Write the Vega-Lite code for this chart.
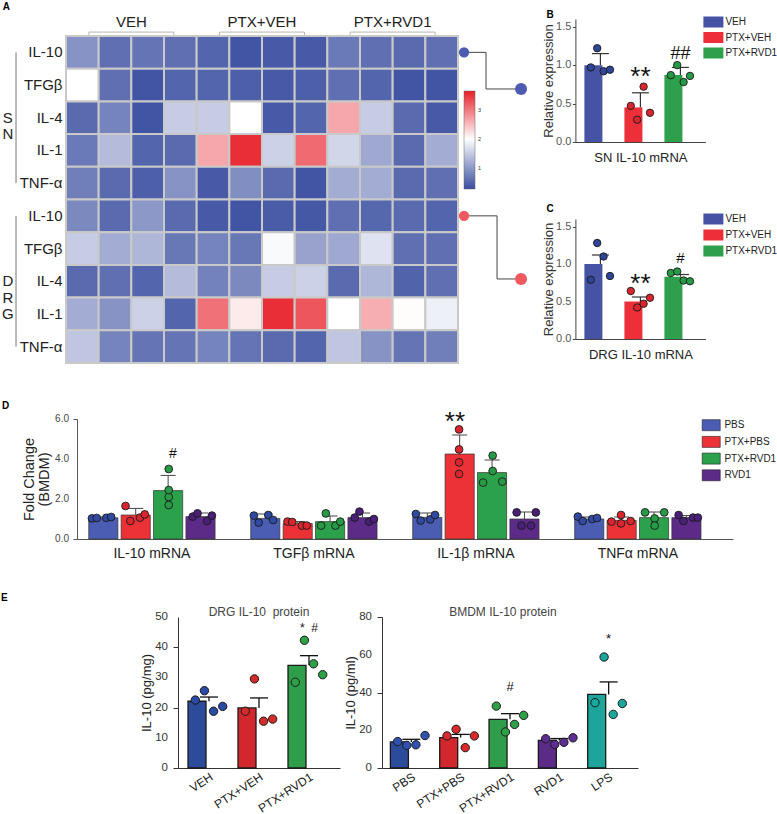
{
"$schema": "https://vega.github.io/schema/vega-lite/v6.json",
"background": "white",
"padding": {"left": 0, "top": 2, "right": 0, "bottom": 0},
"config": {"font": "Liberation Sans", "view": {"stroke": null}, "axis": {"grid": false, "titleFontWeight": "normal", "labelOverlap": false}, "legend": {"padding": 0}},
"spacing": 37,
"resolve": {"scale": {"color": "independent", "fill": "independent", "xOffset": "independent"}, "legend": {"color": "independent", "fill": "independent"}},
"vconcat": [
 {
  "spacing": 0,
  "resolve": {"scale": {"color": "independent", "fill": "independent", "xOffset": "independent"}, "legend": {"color": "independent", "fill": "independent"}},
  "hconcat": [
   {"width": 1, "height": 1, "data": {"values": []}, "mark": "point"},
   {
    "spacing": 13.4,
    "resolve": {"scale": {"color": "independent", "fill": "independent", "xOffset": "independent"}, "legend": {"color": "independent", "fill": "independent"}},
    "hconcat": [
     {
      "bounds": "flush", "spacing": 0,
      "resolve": {"scale": {"color": "independent", "fill": "independent"}, "legend": {"color": "independent", "fill": "independent"}},
      "vconcat": [
       {"width": 392, "height": 17, "data": {"values": []}, "mark": "point"},
       {"width": 392, "height": 327,
        "layer": [
         {"data": {"values": [
            {"row":"SN|IL-10","VEH 1":0.95,"VEH 2":0.6,"VEH 3":0.65,"VEH 4":0.6,"PTX+VEH 1":0.5,"PTX+VEH 2":0.35,"PTX+VEH 3":0.4,"PTX+VEH 4":0.4,"PTX+RVD1 1":0.7,"PTX+RVD1 2":0.6,"PTX+RVD1 3":0.55,"PTX+RVD1 4":0.6},
            {"row":"SN|TFGβ","VEH 1":2.0,"VEH 2":0.6,"VEH 3":0.35,"VEH 4":0.5,"PTX+VEH 1":0.5,"PTX+VEH 2":0.45,"PTX+VEH 3":0.4,"PTX+VEH 4":0.45,"PTX+RVD1 1":0.6,"PTX+RVD1 2":0.5,"PTX+RVD1 3":0.35,"PTX+RVD1 4":0.35},
            {"row":"SN|IL-4","VEH 1":0.55,"VEH 2":0.8,"VEH 3":0.35,"VEH 4":1.5,"PTX+VEH 1":1.5,"PTX+VEH 2":2.0,"PTX+VEH 3":0.4,"PTX+VEH 4":0.5,"PTX+RVD1 1":2.65,"PTX+RVD1 2":1.5,"PTX+RVD1 3":0.55,"PTX+RVD1 4":0.4},
            {"row":"SN|IL-1","VEH 1":0.7,"VEH 2":1.35,"VEH 3":0.5,"VEH 4":0.55,"PTX+VEH 1":2.65,"PTX+VEH 2":3.55,"PTX+VEH 3":1.55,"PTX+VEH 4":3.1,"PTX+RVD1 1":1.6,"PTX+RVD1 2":1.15,"PTX+RVD1 3":0.55,"PTX+RVD1 4":1.2},
            {"row":"SN|TNF-α","VEH 1":0.75,"VEH 2":0.55,"VEH 3":0.45,"VEH 4":0.95,"PTX+VEH 1":0.4,"PTX+VEH 2":0.9,"PTX+VEH 3":0.55,"PTX+VEH 4":0.35,"PTX+RVD1 1":1.2,"PTX+RVD1 2":1.2,"PTX+RVD1 3":0.55,"PTX+RVD1 4":0.6},
            {"row":"DRG|IL-10","VEH 1":0.85,"VEH 2":0.55,"VEH 3":1.0,"VEH 4":0.55,"PTX+VEH 1":0.4,"PTX+VEH 2":0.35,"PTX+VEH 3":0.42,"PTX+VEH 4":0.38,"PTX+RVD1 1":0.6,"PTX+RVD1 2":0.52,"PTX+RVD1 3":0.55,"PTX+RVD1 4":0.5},
            {"row":"DRG|TFGβ","VEH 1":1.5,"VEH 2":1.2,"VEH 3":1.3,"VEH 4":0.68,"PTX+VEH 1":0.8,"PTX+VEH 2":0.68,"PTX+VEH 3":1.95,"PTX+VEH 4":1.1,"PTX+RVD1 1":1.15,"PTX+RVD1 2":1.72,"PTX+RVD1 3":0.6,"PTX+RVD1 4":0.6},
            {"row":"DRG|IL-4","VEH 1":0.55,"VEH 2":0.6,"VEH 3":0.5,"VEH 4":1.35,"PTX+VEH 1":0.78,"PTX+VEH 2":0.85,"PTX+VEH 3":1.5,"PTX+VEH 4":1.55,"PTX+RVD1 1":0.55,"PTX+RVD1 2":1.3,"PTX+RVD1 3":0.48,"PTX+RVD1 4":0.6},
            {"row":"DRG|IL-1","VEH 1":1.2,"VEH 2":0.95,"VEH 3":1.55,"VEH 4":0.5,"PTX+VEH 1":3.05,"PTX+VEH 2":2.15,"PTX+VEH 3":3.55,"PTX+VEH 4":3.25,"PTX+RVD1 1":2.0,"PTX+RVD1 2":2.6,"PTX+RVD1 3":2.02,"PTX+RVD1 4":1.85},
            {"row":"DRG|TNF-α","VEH 1":1.45,"VEH 2":0.8,"VEH 3":0.65,"VEH 4":0.65,"PTX+VEH 1":0.8,"PTX+VEH 2":0.65,"PTX+VEH 3":0.55,"PTX+VEH 4":0.5,"PTX+RVD1 1":1.45,"PTX+RVD1 2":0.95,"PTX+RVD1 3":0.65,"PTX+RVD1 4":0.75}
          ]},
          "transform": [{"fold": ["VEH 1","VEH 2","VEH 3","VEH 4","PTX+VEH 1","PTX+VEH 2","PTX+VEH 3","PTX+VEH 4","PTX+RVD1 1","PTX+RVD1 2","PTX+RVD1 3","PTX+RVD1 4"], "as": ["col", "v"]}],
          "mark": {"type": "rect", "stroke": "#c9c9c9", "strokeWidth": 2},
          "encoding": {
            "x": {"field": "col", "type": "nominal", "scale": {"domain": ["VEH 1","VEH 2","VEH 3","VEH 4","PTX+VEH 1","PTX+VEH 2","PTX+VEH 3","PTX+VEH 4","PTX+RVD1 1","PTX+RVD1 2","PTX+RVD1 3","PTX+RVD1 4"], "paddingInner": 0, "paddingOuter": 0}, "axis": null},
            "y": {"field": "row", "type": "nominal", "scale": {"domain": ["SN|IL-10","SN|TFGβ","SN|IL-4","SN|IL-1","SN|TNF-α","DRG|IL-10","DRG|TFGβ","DRG|IL-4","DRG|IL-1","DRG|TNF-α"], "paddingInner": 0, "paddingOuter": 0},
                  "axis": {"title": null, "labelExpr": "split(datum.label, '|')[1]", "labelFontSize": 15, "labelColor": "#222", "ticks": false, "tickSize": 0, "domain": false, "labelPadding": 4, "labelOverlap": false}},
            "color": {"field": "v", "type": "quantitative",
                      "scale": {"domain": [0.28, 2, 3.65], "range": ["#3a4ea0", "#ffffff", "#e8202a"], "interpolate": "rgb"},
                      "legend": {"orient": "none", "legendX": 398, "legendY": 55, "title": null, "direction": "vertical", "gradientLength": 98, "gradientThickness": 11, "values": [1, 2, 3], "labelFontSize": 5.5, "labelColor": "#333", "labelOffset": 3, "gradientStrokeColor": "#666", "gradientStrokeWidth": 0.5}}
          }},
         {"data": {"values": [
            {"group": "VEH", "first": "VEH 1", "mid": "VEH 2", "last": "VEH 4", "row0": "SN|IL-10"},
            {"group": "PTX+VEH", "first": "PTX+VEH 1", "mid": "PTX+VEH 2", "last": "PTX+VEH 4", "row0": "SN|IL-10"},
            {"group": "PTX+RVD1", "first": "PTX+RVD1 1", "mid": "PTX+RVD1 2", "last": "PTX+RVD1 4", "row0": "SN|IL-10"}]},
          "layer": [
           {"mark": {"type": "text", "fontSize": 15, "color": "#222", "baseline": "middle"},
            "encoding": {"x": {"field": "mid", "type": "nominal", "bandPosition": 1, "axis": null}, "y": {"field": "row0", "type": "nominal", "bandPosition": -0.43}, "text": {"field": "group"}}},
           {"mark": {"type": "rule", "color": "#b5b5b5", "strokeWidth": 1},
            "encoding": {"x": {"field": "first", "type": "nominal", "bandPosition": 0.7, "axis": null}, "x2": {"field": "last", "bandPosition": 0.3}, "y": {"field": "row0", "type": "nominal", "bandPosition": -0.12}}},
           {"mark": {"type": "rule", "color": "#b5b5b5", "strokeWidth": 1},
            "encoding": {"x": {"field": "first", "type": "nominal", "bandPosition": 0.7, "axis": null}, "y": {"field": "row0", "type": "nominal", "bandPosition": -0.12}, "y2": {"field": "row0", "bandPosition": -0.03}}},
           {"mark": {"type": "rule", "color": "#b5b5b5", "strokeWidth": 1},
            "encoding": {"x": {"field": "last", "type": "nominal", "bandPosition": 0.3, "axis": null}, "y": {"field": "row0", "type": "nominal", "bandPosition": -0.12}, "y2": {"field": "row0", "bandPosition": -0.03}}}
          ]},
         {"data": {"values": [{"c": "VEH 1", "r": "SN|IL-10", "t": "A"}]},
          "mark": {"type": "text", "fontSize": 10, "fontWeight": "bold", "align": "left", "baseline": "alphabetic", "color": "#000"},
          "encoding": {"x": {"field": "c", "type": "nominal", "bandPosition": -1.938, "axis": null}, "y": {"field": "r", "type": "nominal", "bandPosition": -0.795}, "text": {"field": "t"}}},
         {"data": {"values": [
            {"tissue": "SN", "label": "S\nN", "c0": "VEH 1", "first": "SN|IL-10", "mid": "SN|IL-4", "last": "SN|TNF-α"},
            {"tissue": "DRG", "label": "D\nR\nG", "c0": "VEH 1", "first": "DRG|IL-10", "mid": "DRG|IL-4", "last": "DRG|TNF-α"}]},
          "layer": [
           {"mark": {"type": "rule", "color": "#777", "strokeWidth": 1},
            "encoding": {"x": {"field": "c0", "type": "nominal", "bandPosition": -1.53, "axis": null}, "y": {"field": "first", "type": "nominal", "bandPosition": 0.5}, "y2": {"field": "last", "bandPosition": 0.5}}},
           {"mark": {"type": "text", "fontSize": 15, "lineBreak": "\n", "lineHeight": 16.5, "color": "#222", "baseline": "middle", "align": "center"},
            "encoding": {"x": {"field": "c0", "type": "nominal", "bandPosition": -1.781, "axis": null}, "y": {"field": "mid", "type": "nominal", "bandPosition": 0.5}, "text": {"field": "label"}}}
          ]},
         {"data": {"values": [{"link": "SN", "c": "PTX+RVD1 4", "r1": "SN|IL-10", "r2": "SN|TFGβ"}]},
          "layer": [
           {"mark": {"type": "rule", "color": "#444", "strokeWidth": 1},
            "encoding": {"x": {"field": "c", "type": "nominal", "bandPosition": 1.185, "axis": null}, "x2": {"field": "c", "bandPosition": 1.858}, "y": {"field": "r1", "type": "nominal", "bandPosition": 0.5}}},
           {"mark": {"type": "rule", "color": "#444", "strokeWidth": 1},
            "encoding": {"x": {"field": "c", "type": "nominal", "bandPosition": 1.858, "axis": null}, "y": {"field": "r1", "type": "nominal", "bandPosition": 0.5}, "y2": {"field": "r2", "bandPosition": 0.62}}},
           {"mark": {"type": "rule", "color": "#444", "strokeWidth": 1},
            "encoding": {"x": {"field": "c", "type": "nominal", "bandPosition": 1.858, "axis": null}, "x2": {"field": "c", "bandPosition": 2.93}, "y": {"field": "r2", "type": "nominal", "bandPosition": 0.62}}},
           {"mark": {"type": "circle", "size": 107, "opacity": 1, "color": "#4f5bb0"},
            "encoding": {"x": {"field": "c", "type": "nominal", "bandPosition": 1.185, "axis": null}, "y": {"field": "r1", "type": "nominal", "bandPosition": 0.5}}},
           {"mark": {"type": "circle", "size": 145, "opacity": 1, "color": "#4f5bb0"},
            "encoding": {"x": {"field": "c", "type": "nominal", "bandPosition": 2.93, "axis": null}, "y": {"field": "r2", "type": "nominal", "bandPosition": 0.62}}}
          ]},
         {"data": {"values": [{"link": "DRG", "c": "PTX+RVD1 4", "r1": "DRG|IL-10", "r2": "DRG|IL-4"}]},
          "layer": [
           {"mark": {"type": "rule", "color": "#444", "strokeWidth": 1},
            "encoding": {"x": {"field": "c", "type": "nominal", "bandPosition": 1.185, "axis": null}, "x2": {"field": "c", "bandPosition": 2.195}, "y": {"field": "r1", "type": "nominal", "bandPosition": 0.5}}},
           {"mark": {"type": "rule", "color": "#444", "strokeWidth": 1},
            "encoding": {"x": {"field": "c", "type": "nominal", "bandPosition": 2.195, "axis": null}, "y": {"field": "r1", "type": "nominal", "bandPosition": 0.5}, "y2": {"field": "r2", "bandPosition": 0.43}}},
           {"mark": {"type": "rule", "color": "#444", "strokeWidth": 1},
            "encoding": {"x": {"field": "c", "type": "nominal", "bandPosition": 2.195, "axis": null}, "x2": {"field": "c", "bandPosition": 2.93}, "y": {"field": "r2", "type": "nominal", "bandPosition": 0.43}}},
           {"mark": {"type": "circle", "size": 107, "opacity": 1, "color": "#f0595f"},
            "encoding": {"x": {"field": "c", "type": "nominal", "bandPosition": 1.185, "axis": null}, "y": {"field": "r1", "type": "nominal", "bandPosition": 0.5}}},
           {"mark": {"type": "circle", "size": 145, "opacity": 1, "color": "#f0595f"},
            "encoding": {"x": {"field": "c", "type": "nominal", "bandPosition": 2.93, "axis": null}, "y": {"field": "r2", "type": "nominal", "bandPosition": 0.43}}}
          ]}
        ]}
      ]
     },
     {
      "bounds": "flush", "spacing": 77,
      "resolve": {"scale": {"color": "independent", "fill": "independent", "xOffset": "independent"}, "legend": {"color": "independent", "fill": "independent"}},
      "vconcat": [
       {"width": 130, "height": 123,
        "layer": [
         {"data": {"values": [{"grp":"VEH","mean":1.0},{"grp":"PTX+VEH","mean":0.45},{"grp":"PTX+RVD1","mean":0.87}]},
          "mark": {"type": "bar"},
          "encoding": {
            "x": {"field": "grp", "type": "nominal", "scale": {"domain": ["VEH","PTX+VEH","PTX+RVD1"], "paddingInner": 0.2, "paddingOuter": 0.225},
                  "axis": {"title": "SN IL-10 mRNA", "labels": false, "ticks": false, "tickSize": 0, "domainColor": "#444", "titleFontSize": 13, "titleColor": "#222", "titlePadding": 9.5}},
            "y": {"field": "mean", "type": "quantitative", "scale": {"domain": [0, 1.5]},
                  "axis": {"title": "Relative expression", "values": [0, 0.5, 1, 1.5], "labels": false, "tickSize": 3, "tickColor": "#444", "domainColor": "#444", "titleFontSize": 13, "titleColor": "#333", "titlePadding": 16.8}},
            "color": {"field": "grp", "type": "nominal", "scale": {"domain": ["VEH","PTX+VEH","PTX+RVD1"], "range": ["#4653a4", "#ec2f38", "#2e9f4b"]},
                      "legend": {"orient": "none", "legendX": 132.5, "legendY": -2.5, "title": null, "symbolType": "M-1.82,-1H1.82V1H-1.82Z", "symbolSize": 121, "symbolStrokeWidth": 0, "symbolOpacity": 1, "labelFontSize": 10, "labelColor": "#222", "labelOffset": 6.5, "rowPadding": 4.5}}}},
         {"data": {"values": [{"grp":"VEH","v":0,"lab":"0.0"},{"grp":"VEH","v":0.5,"lab":"0.5"},{"grp":"VEH","v":1,"lab":"1.0"},{"grp":"VEH","v":1.5,"lab":"1.5"}]},
          "mark": {"type": "text", "align": "right", "baseline": "middle", "fontSize": 11, "color": "#555"},
          "encoding": {"x": {"field": "grp", "type": "nominal", "bandPosition": -0.406}, "y": {"field": "v", "type": "quantitative"}, "text": {"field": "lab"}}},
         {"data": {"values": [{"grp":"VEH","mean":1.0,"upper":1.15},{"grp":"PTX+VEH","mean":0.45,"upper":0.64},{"grp":"PTX+RVD1","mean":0.87,"upper":0.97}]},
          "mark": {"type": "rule", "color": "#333", "strokeWidth": 1.2},
          "encoding": {"x": {"field": "grp", "type": "nominal"}, "y": {"field": "mean", "type": "quantitative"}, "y2": {"field": "upper"}}},
         {"data": {"values": [{"grp":"VEH","upper":1.15},{"grp":"PTX+VEH","upper":0.64},{"grp":"PTX+RVD1","upper":0.97}]},
          "mark": {"type": "tick", "orient": "horizontal", "color": "#333", "thickness": 1.2, "size": 17, "opacity": 1},
          "encoding": {"x": {"field": "grp", "type": "nominal"}, "y": {"field": "upper", "type": "quantitative"}}},
         {"data": {"values": [
            {"grp":"VEH","rep":1,"val":0.97},{"grp":"VEH","rep":2,"val":1.22},{"grp":"VEH","rep":3,"val":0.92},{"grp":"VEH","rep":4,"val":0.94},
            {"grp":"PTX+VEH","rep":1,"val":0.47},{"grp":"PTX+VEH","rep":2,"val":0.29},{"grp":"PTX+VEH","rep":3,"val":0.72},{"grp":"PTX+VEH","rep":4,"val":0.38},
            {"grp":"PTX+RVD1","rep":1,"val":0.87},{"grp":"PTX+RVD1","rep":2,"val":1.0},{"grp":"PTX+RVD1","rep":3,"val":0.78},{"grp":"PTX+RVD1","rep":4,"val":0.86}]},
          "mark": {"type": "circle", "size": 55, "opacity": 1, "stroke": "#1a1a1a", "strokeWidth": 0.9},
          "encoding": {
            "x": {"field": "grp", "type": "nominal"},
            "xOffset": {"field": "rep", "type": "ordinal", "scale": {"type": "point", "padding": 1.2}},
            "y": {"field": "val", "type": "quantitative"},
            "fill": {"field": "grp", "type": "nominal", "scale": {"domain": ["VEH","PTX+VEH","PTX+RVD1"], "range": ["#2f4597", "#d9262e", "#279a45"]}, "legend": null}}},
         {"data": {"values": [{"grp":"PTX+VEH","sig":"**","pos":0.74}]},
          "mark": {"type": "text", "fontSize": 26, "baseline": "alphabetic", "color": "#111"},
          "encoding": {"x": {"field": "grp", "type": "nominal"}, "y": {"field": "pos", "type": "quantitative"}, "text": {"field": "sig"}}},
         {"data": {"values": [{"grp":"PTX+RVD1","sig":"##","pos":1.085}]},
          "mark": {"type": "text", "fontSize": 18, "baseline": "alphabetic", "color": "#111"},
          "encoding": {"x": {"field": "grp", "type": "nominal"}, "y": {"field": "pos", "type": "quantitative"}, "text": {"field": "sig"}}},
         {"data": {"values": [{"grp":"VEH","t":"B","pos":1.61}]},
          "mark": {"type": "text", "fontSize": 10, "fontWeight": "bold", "align": "left", "baseline": "alphabetic", "color": "#000"},
          "encoding": {"x": {"field": "grp", "type": "nominal", "bandPosition": -1.1875}, "y": {"field": "pos", "type": "quantitative"}, "text": {"field": "t"}}}
        ]},
       {"width": 130, "height": 120,
        "layer": [
         {"data": {"values": [{"grp":"VEH","mean":1.0},{"grp":"PTX+VEH","mean":0.5},{"grp":"PTX+RVD1","mean":0.83}]},
          "mark": {"type": "bar"},
          "encoding": {
            "x": {"field": "grp", "type": "nominal", "scale": {"domain": ["VEH","PTX+VEH","PTX+RVD1"], "paddingInner": 0.2, "paddingOuter": 0.225},
                  "axis": {"title": "DRG IL-10 mRNA", "labels": false, "ticks": false, "tickSize": 0, "domainColor": "#444", "titleFontSize": 13, "titleColor": "#222", "titlePadding": 9.5}},
            "y": {"field": "mean", "type": "quantitative", "scale": {"domain": [0, 1.5]},
                  "axis": {"title": "Relative expression", "values": [0, 0.5, 1, 1.5], "labels": false, "tickSize": 3, "tickColor": "#444", "domainColor": "#444", "titleFontSize": 13, "titleColor": "#333", "titlePadding": 16.8}},
            "color": {"field": "grp", "type": "nominal", "scale": {"domain": ["VEH","PTX+VEH","PTX+RVD1"], "range": ["#4653a4", "#ec2f38", "#2e9f4b"]},
                      "legend": {"orient": "none", "legendX": 132.5, "legendY": -5.5, "title": null, "symbolType": "M-1.82,-1H1.82V1H-1.82Z", "symbolSize": 121, "symbolStrokeWidth": 0, "symbolOpacity": 1, "labelFontSize": 10, "labelColor": "#222", "labelOffset": 6.5, "rowPadding": 5}}}},
         {"data": {"values": [{"grp":"VEH","v":0,"lab":"0.0"},{"grp":"VEH","v":0.5,"lab":"0.5"},{"grp":"VEH","v":1,"lab":"1.0"},{"grp":"VEH","v":1.5,"lab":"1.5"}]},
          "mark": {"type": "text", "align": "right", "baseline": "middle", "fontSize": 11, "color": "#555"},
          "encoding": {"x": {"field": "grp", "type": "nominal", "bandPosition": -0.406}, "y": {"field": "v", "type": "quantitative"}, "text": {"field": "lab"}}},
         {"data": {"values": [{"grp":"VEH","mean":1.0,"upper":1.12},{"grp":"PTX+VEH","mean":0.5,"upper":0.56},{"grp":"PTX+RVD1","mean":0.83,"upper":0.86}]},
          "mark": {"type": "rule", "color": "#333", "strokeWidth": 1.2},
          "encoding": {"x": {"field": "grp", "type": "nominal"}, "y": {"field": "mean", "type": "quantitative"}, "y2": {"field": "upper"}}},
         {"data": {"values": [{"grp":"VEH","upper":1.12},{"grp":"PTX+VEH","upper":0.56},{"grp":"PTX+RVD1","upper":0.86}]},
          "mark": {"type": "tick", "orient": "horizontal", "color": "#333", "thickness": 1.2, "size": 17, "opacity": 1},
          "encoding": {"x": {"field": "grp", "type": "nominal"}, "y": {"field": "upper", "type": "quantitative"}}},
         {"data": {"values": [
            {"grp":"VEH","rep":1,"val":0.79},{"grp":"VEH","rep":2,"val":1.28},{"grp":"VEH","rep":3,"val":1.1},{"grp":"VEH","rep":4,"val":0.84},
            {"grp":"PTX+VEH","rep":1,"val":0.64},{"grp":"PTX+VEH","rep":2,"val":0.42},{"grp":"PTX+VEH","rep":3,"val":0.47},{"grp":"PTX+VEH","rep":4,"val":0.55},
            {"grp":"PTX+RVD1","rep":1,"val":0.88},{"grp":"PTX+RVD1","rep":2,"val":0.9},{"grp":"PTX+RVD1","rep":3,"val":0.78},{"grp":"PTX+RVD1","rep":4,"val":0.77}]},
          "mark": {"type": "circle", "size": 55, "opacity": 1, "stroke": "#1a1a1a", "strokeWidth": 0.9},
          "encoding": {
            "x": {"field": "grp", "type": "nominal"},
            "xOffset": {"field": "rep", "type": "ordinal", "scale": {"type": "point", "padding": 1.2}},
            "y": {"field": "val", "type": "quantitative"},
            "fill": {"field": "grp", "type": "nominal", "scale": {"domain": ["VEH","PTX+VEH","PTX+RVD1"], "range": ["#2f4597", "#d9262e", "#279a45"]}, "legend": null}}},
         {"data": {"values": [{"grp":"PTX+VEH","sig":"**","pos":0.63}]},
          "mark": {"type": "text", "fontSize": 26, "baseline": "alphabetic", "color": "#111"},
          "encoding": {"x": {"field": "grp", "type": "nominal"}, "y": {"field": "pos", "type": "quantitative"}, "text": {"field": "sig"}}},
         {"data": {"values": [{"grp":"PTX+RVD1","sig":"#","pos":1.01}]},
          "mark": {"type": "text", "fontSize": 15, "baseline": "alphabetic", "color": "#111"},
          "encoding": {"x": {"field": "grp", "type": "nominal"}, "y": {"field": "pos", "type": "quantitative"}, "text": {"field": "sig"}}},
         {"data": {"values": [{"grp":"VEH","t":"C","pos":1.6875}]},
          "mark": {"type": "text", "fontSize": 10, "fontWeight": "bold", "align": "left", "baseline": "alphabetic", "color": "#000"},
          "encoding": {"x": {"field": "grp", "type": "nominal", "bandPosition": -1.1875}, "y": {"field": "pos", "type": "quantitative"}, "text": {"field": "t"}}}
        ]}
      ]
     }
    ]
   }
  ]
 },
 {
  "spacing": 32,
  "resolve": {"scale": {"color": "independent", "fill": "independent", "xOffset": "independent"}, "legend": {"color": "independent", "fill": "independent"}},
  "vconcat": [
   {
    "spacing": 0,
    "resolve": {"scale": {"color": "independent", "fill": "independent", "xOffset": "independent"}, "legend": {"color": "independent", "fill": "independent"}},
    "hconcat": [
     {"width": 1, "height": 1, "data": {"values": []}, "mark": "point"},
     {"width": 656, "height": 120,
      "resolve": {"scale": {"xOffset": "independent", "fill": "independent"}},
      "layer": [
       {"data": {"values": [
          {"gene":"IL-10 mRNA","trt":"PBS","mean":1.06},{"gene":"IL-10 mRNA","trt":"PTX+PBS","mean":1.2},{"gene":"IL-10 mRNA","trt":"PTX+RVD1","mean":2.42},{"gene":"IL-10 mRNA","trt":"RVD1","mean":1.12},
          {"gene":"TGFβ mRNA","trt":"PBS","mean":1.03},{"gene":"TGFβ mRNA","trt":"PTX+PBS","mean":0.77},{"gene":"TGFβ mRNA","trt":"PTX+RVD1","mean":0.87},{"gene":"TGFβ mRNA","trt":"RVD1","mean":1.07},
          {"gene":"IL-1β mRNA","trt":"PBS","mean":1.08},{"gene":"IL-1β mRNA","trt":"PTX+PBS","mean":4.25},{"gene":"IL-1β mRNA","trt":"PTX+RVD1","mean":3.32},{"gene":"IL-1β mRNA","trt":"RVD1","mean":1.0},
          {"gene":"TNFα mRNA","trt":"PBS","mean":1.0},{"gene":"TNFα mRNA","trt":"PTX+PBS","mean":0.93},{"gene":"TNFα mRNA","trt":"PTX+RVD1","mean":1.07},{"gene":"TNFα mRNA","trt":"RVD1","mean":1.07}]},
        "mark": {"type": "bar", "stroke": "#333", "strokeWidth": 0.7},
        "encoding": {
          "x": {"field": "gene", "type": "nominal", "scale": {"domain": ["IL-10 mRNA","TGFβ mRNA","IL-1β mRNA","TNFα mRNA"], "paddingInner": 0.2, "paddingOuter": 0.125, "align": 0.25},
                "axis": {"title": null, "labelFontSize": 14, "labelColor": "#222", "ticks": false, "tickSize": 0, "labelPadding": 7, "domainColor": "#555", "labelAngle": 0}},
          "xOffset": {"field": "trt", "type": "nominal", "scale": {"domain": ["PBS","PTX+PBS","PTX+RVD1","RVD1"], "paddingInner": 0.1, "paddingOuter": 0.05}},
          "y": {"field": "mean", "type": "quantitative", "scale": {"domain": [0, 6]},
                "axis": {"title": ["Fold Change", "(BMDM)"], "values": [0, 2, 4, 6], "labels": false, "tickSize": 4, "tickColor": "#555", "domainColor": "#555", "titleFontSize": 14.5, "titleColor": "#222", "titlePadding": 20.9, "titleLineHeight": 15}},
          "color": {"field": "trt", "type": "nominal", "scale": {"domain": ["PBS","PTX+PBS","PTX+RVD1","RVD1"], "range": ["#4b5db2", "#ec3237", "#2ba14b", "#5b2b87"]},
                    "legend": {"orient": "none", "legendX": 628.2, "legendY": 0.2, "title": null, "symbolType": "M-1.64,-1H1.64V1H-1.64Z", "symbolSize": 121, "symbolStrokeColor": "#222", "symbolStrokeWidth": 0.6, "symbolOpacity": 1, "labelFontSize": 10, "labelColor": "#222", "labelOffset": 7.2, "rowPadding": 2.7}}}},
       {"data": {"values": [{"gene":"IL-10 mRNA","v":0,"lab":"0.0"},{"gene":"IL-10 mRNA","v":2,"lab":"2.0"},{"gene":"IL-10 mRNA","v":4,"lab":"4.0"},{"gene":"IL-10 mRNA","v":6,"lab":"6.0"}]},
        "mark": {"type": "text", "align": "right", "baseline": "middle", "fontSize": 10, "color": "#444"},
        "encoding": {"x": {"field": "gene", "type": "nominal", "bandPosition": -0.1397}, "y": {"field": "v", "type": "quantitative"}, "text": {"field": "lab"}}},
       {"data": {"values": [
          {"gene":"IL-10 mRNA","trt":"PBS","mean":1.06,"upper":1.1},{"gene":"IL-10 mRNA","trt":"PTX+PBS","mean":1.2,"upper":1.53},{"gene":"IL-10 mRNA","trt":"PTX+RVD1","mean":2.42,"upper":3.18},{"gene":"IL-10 mRNA","trt":"RVD1","mean":1.12,"upper":1.3},
          {"gene":"TGFβ mRNA","trt":"PBS","mean":1.03,"upper":1.25},{"gene":"TGFβ mRNA","trt":"PTX+PBS","mean":0.77,"upper":0.87},{"gene":"TGFβ mRNA","trt":"PTX+RVD1","mean":0.87,"upper":1.15},{"gene":"TGFβ mRNA","trt":"RVD1","mean":1.07,"upper":1.3},
          {"gene":"IL-1β mRNA","trt":"PBS","mean":1.08,"upper":1.3},{"gene":"IL-1β mRNA","trt":"PTX+PBS","mean":4.25,"upper":5.2},{"gene":"IL-1β mRNA","trt":"PTX+RVD1","mean":3.32,"upper":3.95},{"gene":"IL-1β mRNA","trt":"RVD1","mean":1.0,"upper":1.35},
          {"gene":"TNFα mRNA","trt":"PBS","mean":1.0,"upper":1.1},{"gene":"TNFα mRNA","trt":"PTX+PBS","mean":0.93,"upper":1.1},{"gene":"TNFα mRNA","trt":"PTX+RVD1","mean":1.07,"upper":1.35},{"gene":"TNFα mRNA","trt":"RVD1","mean":1.07,"upper":1.17}]},
        "mark": {"type": "rule", "color": "#444", "strokeWidth": 1},
        "encoding": {
          "x": {"field": "gene", "type": "nominal"},
          "xOffset": {"field": "trt", "type": "nominal", "scale": {"domain": ["PBS","PTX+PBS","PTX+RVD1","RVD1"], "paddingInner": 0.1, "paddingOuter": 0.05}},
          "y": {"field": "mean", "type": "quantitative"}, "y2": {"field": "upper"}}},
       {"data": {"values": [
          {"gene":"IL-10 mRNA","trt":"PBS","upper":1.1},{"gene":"IL-10 mRNA","trt":"PTX+PBS","upper":1.53},{"gene":"IL-10 mRNA","trt":"PTX+RVD1","upper":3.18},{"gene":"IL-10 mRNA","trt":"RVD1","upper":1.3},
          {"gene":"TGFβ mRNA","trt":"PBS","upper":1.25},{"gene":"TGFβ mRNA","trt":"PTX+PBS","upper":0.87},{"gene":"TGFβ mRNA","trt":"PTX+RVD1","upper":1.15},{"gene":"TGFβ mRNA","trt":"RVD1","upper":1.3},
          {"gene":"IL-1β mRNA","trt":"PBS","upper":1.3},{"gene":"IL-1β mRNA","trt":"PTX+PBS","upper":5.2},{"gene":"IL-1β mRNA","trt":"PTX+RVD1","upper":3.95},{"gene":"IL-1β mRNA","trt":"RVD1","upper":1.35},
          {"gene":"TNFα mRNA","trt":"PBS","upper":1.1},{"gene":"TNFα mRNA","trt":"PTX+PBS","upper":1.1},{"gene":"TNFα mRNA","trt":"PTX+RVD1","upper":1.35},{"gene":"TNFα mRNA","trt":"RVD1","upper":1.17}]},
        "mark": {"type": "tick", "orient": "horizontal", "color": "#444", "thickness": 1, "size": 15, "opacity": 1},
        "encoding": {
          "x": {"field": "gene", "type": "nominal"},
          "xOffset": {"field": "trt", "type": "nominal", "scale": {"domain": ["PBS","PTX+PBS","PTX+RVD1","RVD1"], "paddingInner": 0.1, "paddingOuter": 0.05}},
          "y": {"field": "upper", "type": "quantitative"}}},
       {"data": {"values": [
          {"gene":"IL-10 mRNA","trt":"PBS","slot":"PBS|1","val":1.03},{"gene":"IL-10 mRNA","trt":"PBS","slot":"PBS|2","val":1.05},{"gene":"IL-10 mRNA","trt":"PBS","slot":"PBS|3","val":1.06},{"gene":"IL-10 mRNA","trt":"PBS","slot":"PBS|4","val":1.1},
          {"gene":"IL-10 mRNA","trt":"PTX+PBS","slot":"PTX+PBS|1","val":1.65},{"gene":"IL-10 mRNA","trt":"PTX+PBS","slot":"PTX+PBS|2","val":0.9},{"gene":"IL-10 mRNA","trt":"PTX+PBS","slot":"PTX+PBS|3","val":1.07},{"gene":"IL-10 mRNA","trt":"PTX+PBS","slot":"PTX+PBS|4","val":1.23},
          {"gene":"IL-10 mRNA","trt":"PTX+RVD1","slot":"PTX+RVD1|m","val":2.1},{"gene":"IL-10 mRNA","trt":"PTX+RVD1","slot":"PTX+RVD1|m","val":3.5},{"gene":"IL-10 mRNA","trt":"PTX+RVD1","slot":"PTX+RVD1|m","val":2.45},{"gene":"IL-10 mRNA","trt":"PTX+RVD1","slot":"PTX+RVD1|m","val":1.7},
          {"gene":"IL-10 mRNA","trt":"RVD1","slot":"RVD1|1","val":1.12},{"gene":"IL-10 mRNA","trt":"RVD1","slot":"RVD1|2","val":1.28},{"gene":"IL-10 mRNA","trt":"RVD1","slot":"RVD1|3","val":0.9},{"gene":"IL-10 mRNA","trt":"RVD1","slot":"RVD1|4","val":1.17},
          {"gene":"TGFβ mRNA","trt":"PBS","slot":"PBS|1","val":1.17},{"gene":"TGFβ mRNA","trt":"PBS","slot":"PBS|2","val":0.82},{"gene":"TGFβ mRNA","trt":"PBS","slot":"PBS|3","val":1.2},{"gene":"TGFβ mRNA","trt":"PBS","slot":"PBS|4","val":0.95},
          {"gene":"TGFβ mRNA","trt":"PTX+PBS","slot":"PTX+PBS|1","val":0.87},{"gene":"TGFβ mRNA","trt":"PTX+PBS","slot":"PTX+PBS|2","val":0.85},{"gene":"TGFβ mRNA","trt":"PTX+PBS","slot":"PTX+PBS|3","val":0.67},{"gene":"TGFβ mRNA","trt":"PTX+PBS","slot":"PTX+PBS|4","val":0.67},
          {"gene":"TGFβ mRNA","trt":"PTX+RVD1","slot":"PTX+RVD1|1","val":0.67},{"gene":"TGFβ mRNA","trt":"PTX+RVD1","slot":"PTX+RVD1|2","val":1.28},{"gene":"TGFβ mRNA","trt":"PTX+RVD1","slot":"PTX+RVD1|3","val":0.67},{"gene":"TGFβ mRNA","trt":"PTX+RVD1","slot":"PTX+RVD1|4","val":0.87},
          {"gene":"TGFβ mRNA","trt":"RVD1","slot":"RVD1|1","val":1.07},{"gene":"TGFβ mRNA","trt":"RVD1","slot":"RVD1|2","val":1.37},{"gene":"TGFβ mRNA","trt":"RVD1","slot":"RVD1|3","val":0.87},{"gene":"TGFβ mRNA","trt":"RVD1","slot":"RVD1|4","val":1.0},
          {"gene":"IL-1β mRNA","trt":"PBS","slot":"PBS|1","val":1.25},{"gene":"IL-1β mRNA","trt":"PBS","slot":"PBS|2","val":0.92},{"gene":"IL-1β mRNA","trt":"PBS","slot":"PBS|3","val":0.98},{"gene":"IL-1β mRNA","trt":"PBS","slot":"PBS|4","val":1.2},
          {"gene":"IL-1β mRNA","trt":"PTX+PBS","slot":"PTX+PBS|m","val":3.83},{"gene":"IL-1β mRNA","trt":"PTX+PBS","slot":"PTX+PBS|m","val":5.48},{"gene":"IL-1β mRNA","trt":"PTX+PBS","slot":"PTX+PBS|m","val":4.48},{"gene":"IL-1β mRNA","trt":"PTX+PBS","slot":"PTX+PBS|m","val":3.25},
          {"gene":"IL-1β mRNA","trt":"PTX+RVD1","slot":"PTX+RVD1|1","val":2.82},{"gene":"IL-1β mRNA","trt":"PTX+RVD1","slot":"PTX+RVD1|m","val":3.4},{"gene":"IL-1β mRNA","trt":"PTX+RVD1","slot":"PTX+RVD1|m","val":4.17},{"gene":"IL-1β mRNA","trt":"PTX+RVD1","slot":"PTX+RVD1|4","val":2.87},
          {"gene":"IL-1β mRNA","trt":"RVD1","slot":"RVD1|1","val":1.33},{"gene":"IL-1β mRNA","trt":"RVD1","slot":"RVD1|2","val":0.67},{"gene":"IL-1β mRNA","trt":"RVD1","slot":"RVD1|3","val":0.67},{"gene":"IL-1β mRNA","trt":"RVD1","slot":"RVD1|4","val":1.33},
          {"gene":"TNFα mRNA","trt":"PBS","slot":"PBS|1","val":1.12},{"gene":"TNFα mRNA","trt":"PBS","slot":"PBS|2","val":0.9},{"gene":"TNFα mRNA","trt":"PBS","slot":"PBS|3","val":1.0},{"gene":"TNFα mRNA","trt":"PBS","slot":"PBS|4","val":1.05},
          {"gene":"TNFα mRNA","trt":"PTX+PBS","slot":"PTX+PBS|1","val":0.87},{"gene":"TNFα mRNA","trt":"PTX+PBS","slot":"PTX+PBS|m","val":1.2},{"gene":"TNFα mRNA","trt":"PTX+PBS","slot":"PTX+PBS|m","val":0.78},{"gene":"TNFα mRNA","trt":"PTX+PBS","slot":"PTX+PBS|4","val":0.9},
          {"gene":"TNFα mRNA","trt":"PTX+RVD1","slot":"PTX+RVD1|1","val":1.33},{"gene":"TNFα mRNA","trt":"PTX+RVD1","slot":"PTX+RVD1|m","val":1.03},{"gene":"TNFα mRNA","trt":"PTX+RVD1","slot":"PTX+RVD1|m","val":0.67},{"gene":"TNFα mRNA","trt":"PTX+RVD1","slot":"PTX+RVD1|4","val":1.33},
          {"gene":"TNFα mRNA","trt":"RVD1","slot":"RVD1|1","val":1.2},{"gene":"TNFα mRNA","trt":"RVD1","slot":"RVD1|2","val":0.9},{"gene":"TNFα mRNA","trt":"RVD1","slot":"RVD1|3","val":1.07},{"gene":"TNFα mRNA","trt":"RVD1","slot":"RVD1|4","val":1.07}]},
        "mark": {"type": "circle", "size": 60, "opacity": 1, "stroke": "#1a1a1a", "strokeWidth": 0.9},
        "encoding": {
          "x": {"field": "gene", "type": "nominal"},
          "xOffset": {"field": "slot", "type": "nominal", "scale": {"domain": ["PBS|a","PBS|1","PBS|2","PBS|m","PBS|3","PBS|4","PBS|b","PTX+PBS|a","PTX+PBS|1","PTX+PBS|2","PTX+PBS|m","PTX+PBS|3","PTX+PBS|4","PTX+PBS|b","PTX+RVD1|a","PTX+RVD1|1","PTX+RVD1|2","PTX+RVD1|m","PTX+RVD1|3","PTX+RVD1|4","PTX+RVD1|b","RVD1|a","RVD1|1","RVD1|2","RVD1|m","RVD1|3","RVD1|4","RVD1|b"], "paddingInner": 0, "paddingOuter": 0}},
          "y": {"field": "val", "type": "quantitative"},
          "fill": {"field": "trt", "type": "nominal", "scale": {"domain": ["PBS","PTX+PBS","PTX+RVD1","RVD1"], "range": ["#2f4aa0", "#d9262e", "#279a45", "#4a1f78"]}, "legend": null}}},
       {"data": {"values": [{"gene":"IL-10 mRNA","trt":"PTX+RVD1","sig":"#","pos":4.03}]},
        "mark": {"type": "text", "fontSize": 14, "baseline": "alphabetic", "color": "#111"},
        "encoding": {
          "x": {"field": "gene", "type": "nominal"},
          "xOffset": {"field": "trt", "type": "nominal", "scale": {"domain": ["PBS","PTX+PBS","PTX+RVD1","RVD1"], "paddingInner": 0.1, "paddingOuter": 0.05}},
          "y": {"field": "pos", "type": "quantitative"}, "text": {"field": "sig"}}},
       {"data": {"values": [{"gene":"IL-1β mRNA","trt":"PTX+PBS","sig":"**","pos":5.43}]},
        "mark": {"type": "text", "fontSize": 26, "baseline": "alphabetic", "color": "#111"},
        "encoding": {
          "x": {"field": "gene", "type": "nominal"},
          "xOffset": {"field": "trt", "type": "nominal", "scale": {"domain": ["PBS","PTX+PBS","PTX+RVD1","RVD1"], "paddingInner": 0.1, "paddingOuter": 0.05}},
          "y": {"field": "pos", "type": "quantitative"}, "text": {"field": "sig"}}},
       {"data": {"values": [{"gene":"IL-10 mRNA","t":"D","pos":6.5}]},
        "mark": {"type": "text", "fontSize": 10, "fontWeight": "bold", "align": "left", "baseline": "alphabetic", "color": "#000"},
        "encoding": {"x": {"field": "gene", "type": "nominal", "bandPosition": -0.657}, "y": {"field": "pos", "type": "quantitative"}, "text": {"field": "t"}}}
      ]}
    ]
   },
   {
    "spacing": 0,
    "resolve": {"scale": {"color": "independent", "fill": "independent", "xOffset": "independent"}, "legend": {"color": "independent", "fill": "independent"}},
    "hconcat": [
     {"width": 1, "height": 1, "data": {"values": []}, "mark": "point"},
     {
      "bounds": "flush", "spacing": 42,
      "resolve": {"scale": {"color": "independent", "fill": "independent", "xOffset": "independent"}, "legend": {"color": "independent", "fill": "independent"}},
      "hconcat": [
       {"width": 162, "height": 151,
        "layer": [
         {"data": {"values": [{"grp":"VEH","mean":22.1},{"grp":"PTX+VEH","mean":19.9},{"grp":"PTX+RVD1","mean":34.0}]},
          "mark": {"type": "bar", "stroke": "#1a1a1a", "strokeWidth": 1.3},
          "encoding": {
            "x": {"field": "grp", "type": "nominal", "scale": {"domain": ["VEH","PTX+VEH","PTX+RVD1"], "paddingInner": 0.16, "paddingOuter": 0.2},
                  "axis": {"title": null, "labelAngle": -33, "labelFontSize": 12, "labelColor": "#222", "ticks": false, "tickSize": 0, "labelPadding": 3, "domainColor": "#333"}},
            "y": {"field": "mean", "type": "quantitative", "scale": {"domain": [0, 50]},
                  "axis": {"title": "IL-10 (pg/mg)", "values": [0, 10, 20, 30, 40, 50], "labels": false, "tickSize": 5, "tickColor": "#333", "domainColor": "#333", "titleFontSize": 13, "titleColor": "#222", "titlePadding": 18.8}},
            "color": {"field": "grp", "type": "nominal", "scale": {"domain": ["VEH","PTX+VEH","PTX+RVD1"], "range": ["#2c4b9a", "#d2282d", "#2f9e4a"]}, "legend": null}}},
         {"data": {"values": [{"grp":"VEH","v":0,"lab":"0"},{"grp":"VEH","v":10,"lab":"10"},{"grp":"VEH","v":20,"lab":"20"},{"grp":"VEH","v":30,"lab":"30"},{"grp":"VEH","v":40,"lab":"40"},{"grp":"VEH","v":50,"lab":"50"}]},
          "mark": {"type": "text", "align": "right", "baseline": "middle", "fontSize": 11.5, "color": "#333"},
          "encoding": {"x": {"field": "grp", "type": "nominal", "bandPosition": -0.476}, "y": {"field": "v", "type": "quantitative"}, "text": {"field": "lab"}}},
         {"data": {"values": [{"grp":"VEH","mean":22.1,"upper":23.5},{"grp":"PTX+VEH","mean":19.9,"upper":23.2},{"grp":"PTX+RVD1","mean":34.0,"upper":37.2}]},
          "mark": {"type": "rule", "color": "#111", "strokeWidth": 1.3},
          "encoding": {"x": {"field": "grp", "type": "nominal"}, "y": {"field": "mean", "type": "quantitative"}, "y2": {"field": "upper"}}},
         {"data": {"values": [{"grp":"VEH","upper":23.5},{"grp":"PTX+VEH","upper":23.2},{"grp":"PTX+RVD1","upper":37.2}]},
          "mark": {"type": "tick", "orient": "horizontal", "color": "#111", "thickness": 1.3, "size": 18, "opacity": 1},
          "encoding": {"x": {"field": "grp", "type": "nominal"}, "y": {"field": "upper", "type": "quantitative"}}},
         {"data": {"values": [
            {"grp":"VEH","rep":1,"val":22.5},{"grp":"VEH","rep":2,"val":25.6},{"grp":"VEH","rep":3,"val":18.8},{"grp":"VEH","rep":4,"val":20.4},
            {"grp":"PTX+VEH","rep":1,"val":18.8},{"grp":"PTX+VEH","rep":2,"val":29.5},{"grp":"PTX+VEH","rep":3,"val":15.5},{"grp":"PTX+VEH","rep":4,"val":16.2},
            {"grp":"PTX+RVD1","rep":1,"val":28.4},{"grp":"PTX+RVD1","rep":2,"val":42.3},{"grp":"PTX+RVD1","rep":3,"val":34.5},{"grp":"PTX+RVD1","rep":4,"val":30.9}]},
          "mark": {"type": "circle", "size": 70, "opacity": 1, "stroke": "#1a1a1a", "strokeWidth": 1},
          "encoding": {
            "x": {"field": "grp", "type": "nominal"},
            "xOffset": {"field": "rep", "type": "ordinal", "scale": {"type": "point", "padding": 0.8}},
            "y": {"field": "val", "type": "quantitative"},
            "fill": {"field": "grp", "type": "nominal", "scale": {"domain": ["VEH","PTX+VEH","PTX+RVD1"], "range": ["#2b4aa6", "#d32a2a", "#2ea048"]}, "legend": null}}},
         {"data": {"values": [{"grp":"PTX+RVD1","sig":"*\u00a0\u00a0#","pos":45}]},
          "mark": {"type": "text", "fontSize": 12, "baseline": "alphabetic", "color": "#111"},
          "encoding": {"x": {"field": "grp", "type": "nominal"}, "y": {"field": "pos", "type": "quantitative"}, "text": {"field": "sig"}}},
         {"data": {"values": [{"grp":"PTX+VEH","t":"DRG IL-10\u00a0 protein","pos":50.33}]},
          "mark": {"type": "text", "fontSize": 12, "baseline": "alphabetic", "color": "#444"},
          "encoding": {"x": {"field": "grp", "type": "nominal"}, "y": {"field": "pos", "type": "quantitative"}, "text": {"field": "t"}}},
         {"data": {"values": [{"grp":"VEH","t":"E","pos":55.3}]},
          "mark": {"type": "text", "fontSize": 10, "fontWeight": "bold", "align": "left", "baseline": "alphabetic", "color": "#000"},
          "encoding": {"x": {"field": "grp", "type": "nominal", "bandPosition": -4.452}, "y": {"field": "pos", "type": "quantitative"}, "text": {"field": "t"}}}
        ]},
       {"width": 256, "height": 151,
        "layer": [
         {"data": {"values": [{"grp":"PBS","mean":13.8},{"grp":"PTX+PBS","mean":16.1},{"grp":"PTX+RVD1","mean":25.8},{"grp":"RVD1","mean":14.6},{"grp":"LPS","mean":39.0}]},
          "mark": {"type": "bar", "stroke": "#1a1a1a", "strokeWidth": 1.3},
          "encoding": {
            "x": {"field": "grp", "type": "nominal", "scale": {"domain": ["PBS","PTX+PBS","PTX+RVD1","RVD1","LPS"], "paddingInner": 0.15, "paddingOuter": 0.17},
                  "axis": {"title": null, "labelAngle": -33, "labelFontSize": 12, "labelColor": "#222", "ticks": false, "tickSize": 0, "labelPadding": 3, "domainColor": "#333"}},
            "y": {"field": "mean", "type": "quantitative", "scale": {"domain": [0, 80]},
                  "axis": {"title": "IL-10 (pg/ml)", "values": [0, 20, 40, 60, 80], "labels": false, "tickSize": 5, "tickColor": "#333", "domainColor": "#333", "titleFontSize": 13, "titleColor": "#222", "titlePadding": 19.3}},
            "color": {"field": "grp", "type": "nominal", "scale": {"domain": ["PBS","PTX+PBS","PTX+RVD1","RVD1","LPS"], "range": ["#2c4b9a", "#d2282d", "#2f9e4a", "#5c2b87", "#1da59b"]}, "legend": null}}},
         {"data": {"values": [{"grp":"PBS","v":0,"lab":"0"},{"grp":"PBS","v":20,"lab":"20"},{"grp":"PBS","v":40,"lab":"40"},{"grp":"PBS","v":60,"lab":"60"},{"grp":"PBS","v":80,"lab":"80"}]},
          "mark": {"type": "text", "align": "right", "baseline": "middle", "fontSize": 11.5, "color": "#333"},
          "encoding": {"x": {"field": "grp", "type": "nominal", "bandPosition": -0.439}, "y": {"field": "v", "type": "quantitative"}, "text": {"field": "lab"}}},
         {"data": {"values": [{"grp":"PBS","mean":13.8,"upper":15.2},{"grp":"PTX+PBS","mean":16.1,"upper":17.8},{"grp":"PTX+RVD1","mean":25.8,"upper":28.8},{"grp":"RVD1","mean":14.6,"upper":15.6},{"grp":"LPS","mean":39.0,"upper":45.6}]},
          "mark": {"type": "rule", "color": "#111", "strokeWidth": 1.3},
          "encoding": {"x": {"field": "grp", "type": "nominal"}, "y": {"field": "mean", "type": "quantitative"}, "y2": {"field": "upper"}}},
         {"data": {"values": [{"grp":"PBS","upper":15.2},{"grp":"PTX+PBS","upper":17.8},{"grp":"PTX+RVD1","upper":28.8},{"grp":"RVD1","upper":15.6},{"grp":"LPS","upper":45.6}]},
          "mark": {"type": "tick", "orient": "horizontal", "color": "#111", "thickness": 1.3, "size": 18, "opacity": 1},
          "encoding": {"x": {"field": "grp", "type": "nominal"}, "y": {"field": "upper", "type": "quantitative"}}},
         {"data": {"values": [
            {"grp":"PBS","rep":1,"val":14.0},{"grp":"PBS","rep":2,"val":12.0},{"grp":"PBS","rep":3,"val":12.3},{"grp":"PBS","rep":4,"val":17.2},
            {"grp":"PTX+PBS","rep":1,"val":17.0},{"grp":"PTX+PBS","rep":2,"val":20.5},{"grp":"PTX+PBS","rep":3,"val":10.8},{"grp":"PTX+PBS","rep":4,"val":17.0},
            {"grp":"PTX+RVD1","rep":1,"val":32.8},{"grp":"PTX+RVD1","rep":2,"val":19.1},{"grp":"PTX+RVD1","rep":3,"val":23.1},{"grp":"PTX+RVD1","rep":4,"val":27.9},
            {"grp":"RVD1","rep":1,"val":15.5},{"grp":"RVD1","rep":2,"val":12.5},{"grp":"RVD1","rep":3,"val":13.6},{"grp":"RVD1","rep":4,"val":16.0},
            {"grp":"LPS","rep":1,"val":34.6},{"grp":"LPS","rep":2,"val":58.8},{"grp":"LPS","rep":3,"val":28.4},{"grp":"LPS","rep":4,"val":34.2}]},
          "mark": {"type": "circle", "size": 70, "opacity": 1, "stroke": "#1a1a1a", "strokeWidth": 1},
          "encoding": {
            "x": {"field": "grp", "type": "nominal"},
            "xOffset": {"field": "rep", "type": "ordinal", "scale": {"type": "point", "padding": 0.8}},
            "y": {"field": "val", "type": "quantitative"},
            "fill": {"field": "grp", "type": "nominal", "scale": {"domain": ["PBS","PTX+PBS","PTX+RVD1","RVD1","LPS"], "range": ["#2f52b0", "#d92b2b", "#2ea048", "#5d2d94", "#1aa89e"]}, "legend": null}}},
         {"data": {"values": [{"grp":"PTX+RVD1","sig":"#","pos":40.8},{"grp":"LPS","sig":"*","pos":66}]},
          "mark": {"type": "text", "fontSize": 13, "baseline": "alphabetic", "color": "#111"},
          "encoding": {"x": {"field": "grp", "type": "nominal"}, "y": {"field": "pos", "type": "quantitative"}, "text": {"field": "sig"}}},
         {"data": {"values": [{"grp":"PTX+RVD1","t":"BMDM IL-10 protein","pos":80.53}]},
          "mark": {"type": "text", "fontSize": 12, "baseline": "alphabetic", "color": "#444"},
          "encoding": {"x": {"field": "grp", "type": "nominal", "bandPosition": 0.33}, "y": {"field": "pos", "type": "quantitative"}, "text": {"field": "t"}}}
        ]}
      ]
     }
    ]
   }
  ]
 }
]
}
